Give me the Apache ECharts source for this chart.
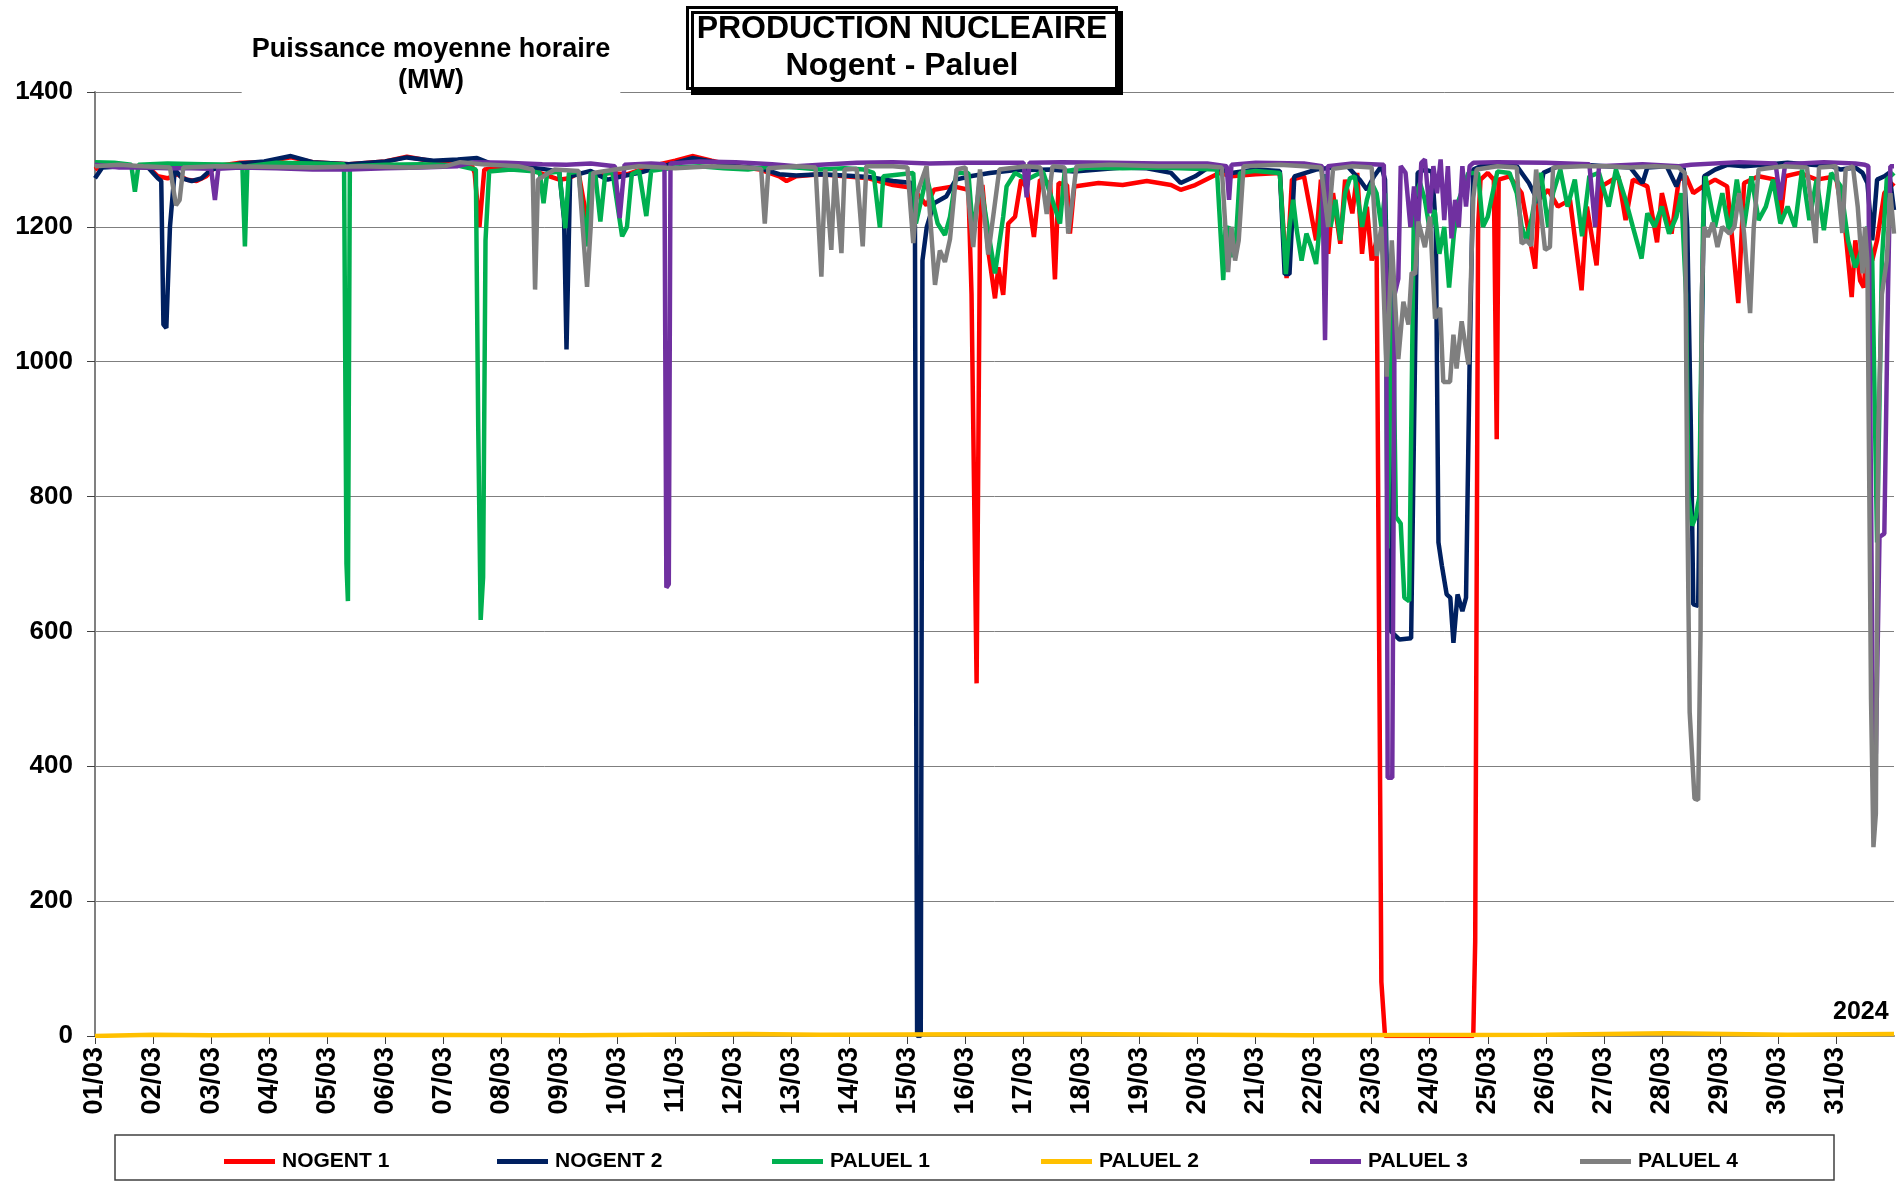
<!DOCTYPE html>
<html>
<head>
<meta charset="utf-8">
<title>Production nucleaire Nogent - Paluel</title>
<script src="https://cdn.jsdelivr.net/npm/echarts@6/dist/echarts.min.js"></script>
<style>
  html, body { margin: 0; padding: 0; background: #fff; }
  #chart { width: 1904px; height: 1181px; }
</style>
</head>
<body>
<div id="chart"></div>
<script>
// heure depuis le 01/03 00h, puissance (MW)
const days = ['01/03', '02/03', '03/03', '04/03', '05/03', '06/03', '07/03', '08/03', '09/03', '10/03',
  '11/03', '12/03', '13/03', '14/03', '15/03', '16/03', '17/03', '18/03', '19/03', '20/03',
  '21/03', '22/03', '23/03', '24/03', '25/03', '26/03', '27/03', '28/03', '29/03', '30/03', '31/03']

const nogent1 = [[0,1285],[3,1292],[12,1290],[22,1288],[24,1282],[26,1275],[30,1272],[34,1278],[38,1270],[42,1268],[46,1275],[50,1290],[60,1295],[70,1296],[81,1303],[90,1296],[105,1293],[120,1297],[129,1304],[140,1297],[150,1293],[156,1290],[157,1280],[159,1200],[161,1285],[170,1288],[180,1285],[188,1275],[192,1270],[196,1272],[200,1280],[204,1200],[206,1275],[212,1280],[220,1278],[230,1290],[240,1298],[247,1305],[255,1298],[265,1290],[275,1285],[283,1275],[286,1268],[290,1275],[300,1278],[310,1275],[320,1272],[330,1262],[338,1258],[343.9,1232],[347,1255],[355,1260],[361.2,1255],[362.5,1100],[364.6,523],[366,1200],[367,1262],[369.4,1165],[372.2,1094],[373.6,1140],[375.6,1099],[377.7,1205],[380.5,1215],[383,1270],[385.3,1258],[388.3,1185],[390.8,1270],[395,1265],[397,1122],[398.5,1265],[402,1262],[403.2,1190],[405,1260],[415,1265],[425,1262],[435,1268],[445,1262],[449,1255],[455,1262],[465,1280],[470,1275],[480,1278],[490,1280],[492.8,1124],[495,1270],[500,1275],[505,1180],[507,1270],[510,1160],[512,1250],[515,1175],[517,1270],[520,1220],[522,1280],[524,1160],[526,1230],[528,1150],[530,1180],[532,80],[533.5,0],[570,0],[570.8,140],[572,1200],[573,1270],[576,1280],[578.5,1270],[579.7,885],[580.5,1270],[585,1275],[590,1250],[595.6,1138],[597,1240],[601,1255],[605,1230],[610,1240],[614.8,1106],[617,1230],[621,1143],[623,1260],[630,1275],[633,1210],[636,1270],[642,1260],[646,1177],[648,1250],[652,1190],[655,1270],[658,1275],[661,1250],[665,1260],[670,1270],[675,1260],[679.6,1087],[682,1265],[688,1275],[695,1270],[697,1210],[699,1275],[705,1280],[712,1270],[720,1275],[724,1190],[726.5,1096],[728,1180],[730,1120],[731.5,1110],[733,1180],[735,1150],[737,1180],[740,1250],[744,1265]]

const nogent2 = [[0,1272],[3,1288],[12,1290],[22,1288],[24,1280],[26,1272],[27.4,1268],[28.3,1055],[29.5,1050],[31,1200],[33,1285],[36,1272],[40,1268],[44,1272],[48,1285],[60,1294],[70,1297],[81,1305],[90,1296],[105,1293],[120,1297],[129,1303],[140,1298],[150,1300],[158,1302],[165,1292],[175,1290],[185,1286],[192,1282],[194,1210],[195,1018],[196.5,1275],[205,1283],[212,1270],[218,1275],[225,1280],[235,1290],[247,1302],[255,1297],[265,1290],[275,1287],[283,1278],[290,1276],[300,1278],[310,1276],[320,1274],[330,1268],[338,1265],[339.1,1200],[340,0],[341.5,0],[342.2,1150],[344,1200],[347,1235],[352,1245],[356,1270],[362,1275],[370,1280],[380,1284],[395,1285],[405,1282],[415,1285],[425,1288],[435,1287],[445,1280],[449,1265],[455,1275],[460,1287],[466,1285],[470,1280],[480,1285],[490,1283],[492,1130],[494,1130],[496,1275],[505,1285],[512,1288],[518,1290],[523,1270],[526,1255],[529,1275],[532,1290],[533.5,1270],[535,1000],[536,600],[539.5,588],[544.3,590],[545.5,900],[547,1280],[550,1285],[553,1282],[554.5,1200],[555.6,732],[557,698],[559,655],[560.5,650],[561.8,583],[563.5,655],[565.5,630],[567,650],[568.5,1000],[570,1285],[573,1290],[580,1292],[588,1290],[593,1265],[597,1236],[599,1280],[605,1290],[615,1292],[625,1290],[635,1288],[640,1265],[642,1288],[650,1290],[654,1260],[657,1288],[658.5,1200],[660,900],[661,640],[663,638],[664.2,950],[665.5,1275],[670,1285],[675,1292],[682,1290],[690,1292],[700,1295],[710,1292],[718,1290],[722,1285],[728,1288],[731,1280],[733,1265],[735,1180],[737,1270],[740,1275],[742,1280],[744,1225]]

const paluel1 = [[0,1296],[8,1295],[15,1292],[16.5,1252],[18,1292],[30,1294],[45,1293],[60,1292],[61,1285],[62,1171],[63,1290],[75,1295],[90,1294],[103,1293],[104,700],[104.6,645],[105.4,1290],[120,1292],[135,1293],[150,1291],[157.5,1285],[158.5,900],[159.5,617],[160.5,680],[161.5,1180],[163,1282],[172,1285],[180,1283],[184,1280],[185.5,1235],[187,1280],[192,1282],[194.5,1198],[196,1280],[200,1282],[203,1171],[205,1280],[207,1275],[209,1208],[211,1278],[214,1282],[218,1186],[220,1200],[222,1278],[225,1283],[228,1216],[230,1283],[240,1288],[250,1290],[260,1287],[270,1285],[280,1290],[290,1288],[300,1285],[310,1287],[318,1285],[322,1280],[324.6,1199],[326,1275],[338.4,1280],[339.5,1205],[343.9,1275],[348.5,1205],[351.5,1188],[353.6,1215],[356.3,1280],[361.2,1280],[363.2,1188],[366,1270],[372.2,1131],[375.6,1215],[377,1260],[380.5,1280],[385.3,1270],[392,1282],[399.1,1205],[401,1282],[410,1288],[425,1287],[440,1288],[455,1286],[464,1285],[466.6,1121],[467.5,1195],[469,1200],[470.5,1155],[472,1190],[473.5,1280],[480,1283],[490,1280],[492.5,1130],[494,1200],[495.5,1240],[497,1195],[499,1150],[501,1190],[503,1170],[505,1145],[507,1220],[509,1278],[511,1200],[513,1240],[515,1180],[517,1250],[519,1272],[521,1275],[524,1200],[526,1240],[528,1265],[530,1250],[532,1200],[533.5,1250],[534.6,723],[536.5,1150],[538,770],[540,760],[541.5,650],[543.5,645],[545.5,1240],[548,1265],[550,1240],[552,1195],[554,1225],[556,1160],[558,1200],[560,1110],[562,1190],[564,1240],[566,1260],[568,1280],[572,1280],[574,1200],[576,1215],[578,1250],[580,1282],[585,1280],[588,1250],[590,1200],[592,1180],[594,1210],[596,1250],[598,1280],[601,1200],[603,1250],[606,1285],[609,1230],[612,1270],[615,1186],[618,1275],[622,1280],[626,1230],[629,1285],[633,1240],[636,1200],[639.6,1153],[642,1220],[645,1200],[648,1230],[651,1190],[654,1215],[656,1250],[658,1100],[659,800],[660.5,757],[662,770],[663.5,800],[665,1200],[666,1275],[670,1200],[673,1250],[676,1190],[679,1270],[682,1200],[685,1275],[688,1210],[691,1230],[694,1270],[697,1205],[700,1230],[703,1200],[706,1285],[709,1210],[712,1270],[715,1195],[718,1280],[722,1260],[725,1180],[728,1140],[731,1170],[733,1200],[735,1150],[737,732],[739,1150],[741,1270],[744,1280]]

const paluel2 = [[0,0],[24,2],[48,1],[100,2],[200,1],[270,3],[300,2],[400,3],[500,1],[600,2],[650,4],[700,2],[744,3]]

const paluel3 = [[0,1292],[10,1288],[20,1288],[30,1287],[40,1287],[48,1286],[49.6,1240],[51,1286],[60,1288],[75,1287],[90,1285],[105,1285],[120,1287],[135,1288],[150,1290],[157,1296],[170,1295],[185,1293],[195,1292],[205,1294],[215,1290],[217,1213],[219,1292],[230,1294],[235.5,1293],[236.3,665],[237.3,670],[238,1294],[250,1297],[265,1296],[280,1293],[290,1290],[300,1292],[315,1295],[330,1296],[345,1294],[360,1295],[384,1295],[385.3,1244],[386.5,1295],[400,1296],[420,1295],[440,1294],[460,1294],[468,1290],[469,1240],[470,1292],[480,1295],[500,1294],[507.5,1290],[508.7,1032],[509.8,1290],[520,1294],[533,1292],[534,1100],[534.6,383],[536.5,383],[537.5,1100],[539,1123],[540,1290],[542,1280],[544,1200],[545.5,1260],[547,1185],[548.5,1295],[550,1300],[552,1220],[553.5,1290],[555,1250],[556.5,1300],[558,1210],[559.5,1290],[561,1183],[562.5,1240],[564,1200],[565.5,1290],[567,1230],[568.5,1290],[570,1295],[580,1296],[600,1295],[618,1293],[620.4,1200],[622,1290],[640,1293],[655,1290],[660,1292],[680,1296],[695,1294],[697,1240],[699,1293],[715,1296],[728,1294],[732,1292],[733.4,1290],[734.5,800],[735.5,360],[736.5,420],[738,740],[740,745],[741.5,1100],[742.5,1290],[744,1290]]

const paluel4 = [[0,1290],[10,1292],[20,1290],[31,1288],[33.5,1232],[35,1240],[36.5,1288],[50,1290],[70,1289],[90,1288],[110,1290],[130,1288],[145,1290],[151,1296],[160,1293],[175,1290],[181,1285],[182,1107],[183.2,1270],[190,1285],[200,1283],[203.5,1111],[205,1200],[206,1280],[215,1285],[225,1290],[240,1287],[255,1290],[270,1288],[275.5,1286],[277,1205],[278.5,1287],[290,1290],[298,1288],[300.4,1126],[302,1285],[304.5,1166],[306,1285],[308.7,1161],[310,1285],[315,1286],[317.5,1171],[319,1290],[330,1290],[336,1288],[338.4,1176],[340,1250],[343.9,1290],[347.4,1114],[349.4,1165],[351.5,1148],[353.6,1182],[356.3,1285],[360,1288],[363.2,1170],[366,1285],[369.4,1159],[374,1285],[385,1290],[391,1288],[393.6,1219],[396,1290],[401,1288],[402.5,1190],[405.9,1290],[420,1292],[440,1290],[460,1290],[466,1288],[468.6,1133],[470,1200],[471.5,1150],[473,1180],[475,1290],[490,1292],[500,1290],[507,1288],[510,1200],[512,1286],[520,1290],[528,1288],[530.1,1157],[532,1200],[534.2,978],[536.3,1180],[539,1004],[541.1,1089],[543.2,1055],[544.5,1132],[546,1130],[547.3,1208],[550,1170],[552.1,1215],[554.2,1064],[556.3,1080],[557.6,970],[560.4,970],[561.8,1040],[563.1,990],[565.2,1060],[568,996],[570,1243],[571.4,1285],[580,1290],[588,1288],[590,1175],[592,1180],[594,1172],[596,1285],[599.7,1166],[601.7,1170],[603,1288],[615,1290],[625,1290],[635,1288],[645,1290],[655,1288],[657.5,1280],[658.5,800],[659.5,480],[661.5,352],[663,350],[664,600],[664.5,1100],[665.5,1200],[667,1185],[669,1206],[671,1170],[673,1200],[676,1190],[678,1200],[680,1250],[682,1190],[684.5,1072],[686,1200],[688,1285],[698,1290],[708,1288],[711.6,1176],[713,1288],[720,1290],[722.6,1191],[724,1285],[727,1290],[729,1230],[731,1131],[732,1200],[733,1150],[734.5,500],[735.5,280],[736.5,330],[737.5,900],[739,1100],[741,1150],[742.5,1250],[744,1190]]

const names = ['NOGENT 1', 'NOGENT 2', 'PALUEL 1', 'PALUEL 2', 'PALUEL 3', 'PALUEL 4']
const colors = ['#FF0000', '#002060', '#00B050', '#FFC000', '#7030A0', '#7F7F7F']
const values = [nogent1, nogent2, paluel1, paluel2, paluel3, paluel4]
const legendLeft = [219, 492, 767, 1036, 1305, 1575]

const font = '"Liberation Sans", Arial, sans-serif'
const chart = echarts.init(document.getElementById('chart'))

chart.setOption({
  animation: false,
  backgroundColor: '#fff',
  textStyle: { fontFamily: font },
  title: [
    {
      text: 'PRODUCTION NUCLEAIRE\nNogent - Paluel',
      left: 893,
      top: 7,
      textAlign: 'center',
      padding: [4, 9],
      backgroundColor: '#fff',
      borderColor: '#000',
      borderWidth: 3,
      shadowColor: '#000',
      shadowBlur: 0,
      shadowOffsetX: 5,
      shadowOffsetY: 5,
      textStyle: { fontSize: 32, fontWeight: 'bold', color: '#000', lineHeight: 37, fontFamily: font }
    },
    {
      text: 'Puissance moyenne horaire\n(MW)',
      left: 421,
      top: 34,
      textAlign: 'center',
      padding: [0, 10],
      backgroundColor: '#fff',
      textStyle: { fontSize: 27, fontWeight: 'bold', color: '#000', lineHeight: 31, fontFamily: font }
    },
    {
      text: '2024',
      left: 1828,
      top: 995,
      textStyle: { fontSize: 25, fontWeight: 'bold', color: '#000', fontFamily: font }
    }
  ],
  legend: names.map((n, i) => ({
    data: [n],
    left: legendLeft[i],
    top: 1146,
    icon: 'rect',
    itemWidth: 51,
    itemHeight: 5,
    itemGap: 0,
    textStyle: { fontSize: 21, fontWeight: 'bold', color: '#000', fontFamily: font, padding: [0, 0, 0, 2] }
  })),
  graphic: [
    {
      type: 'rect',
      shape: { x: 115, y: 1135, width: 1719, height: 45 },
      style: { fill: 'none', stroke: '#404040', lineWidth: 1.5 },
      z: 0
    }
  ],
  grid: { left: 95, right: 10, top: 92, bottom: 145 },
  xAxis: {
    type: 'value',
    min: 0,
    max: 744,
    interval: 24,
    axisLine: { show: true, lineStyle: { color: '#808080', width: 2 } },
    axisTick: { show: true, length: 8, lineStyle: { color: '#404040' } },
    splitLine: { show: false },
    axisLabel: {
      rotate: 90,
      margin: 11,
      fontSize: 27,
      fontWeight: 'bold',
      color: '#000',
      fontFamily: font,
      showMaxLabel: false,
      formatter: v => days[v / 24] || ''
    }
  },
  yAxis: {
    type: 'value',
    min: 0,
    max: 1400,
    interval: 200,
    axisLine: { show: true, lineStyle: { color: '#808080', width: 2 } },
    axisTick: { show: true, length: 8, lineStyle: { color: '#404040' } },
    splitLine: { show: true, lineStyle: { color: '#7F7F7F', width: 1 } },
    axisLabel: { fontSize: 26, fontWeight: 'bold', color: '#000', margin: 22, fontFamily: font, formatter: v => String(v) }
  },
  series: names.map((n, i) => ({
    name: n,
    type: 'line',
    data: values[i],
    showSymbol: false,
    color: colors[i],
    lineStyle: { width: 4.5, color: colors[i] },
    z: 2 + i
  }))
})
</script>
</body>
</html>
